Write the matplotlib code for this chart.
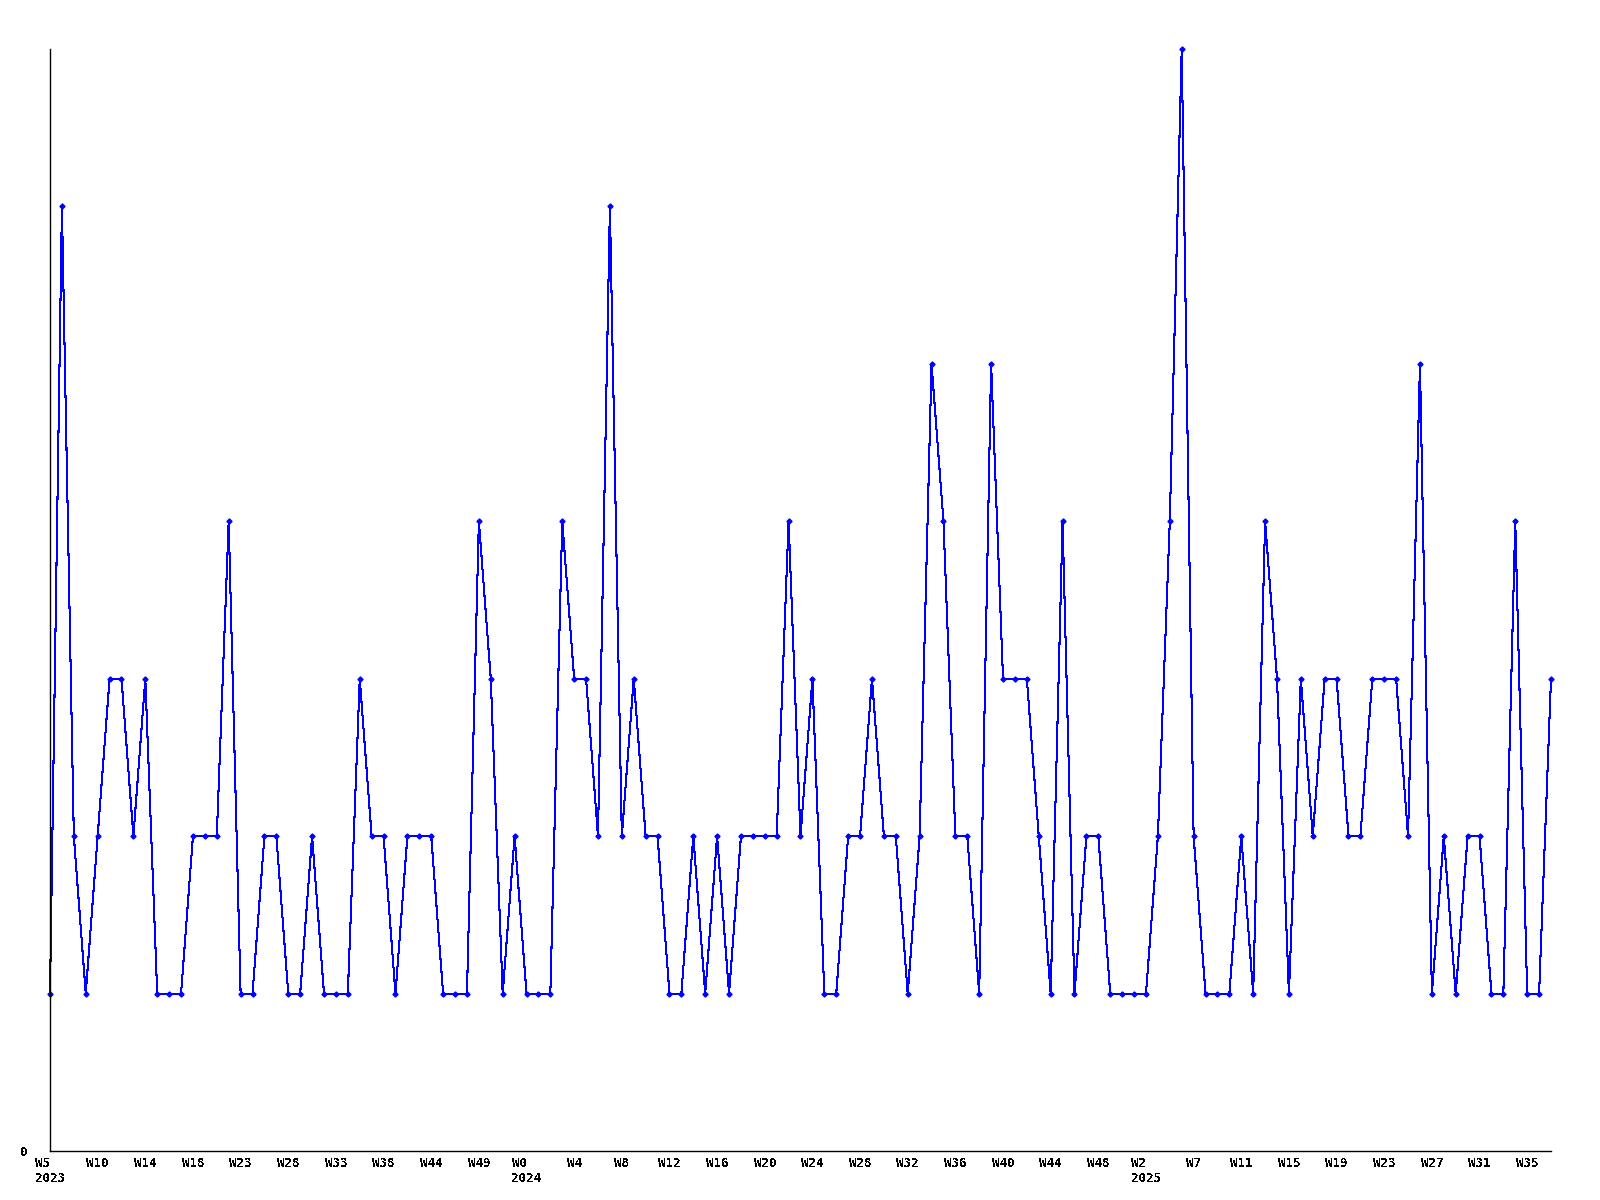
import matplotlib
matplotlib.use("Agg")
import matplotlib.pyplot as plt

# weekly counts (only weeks that had entries, so x is an index, not a date)
counts = [1, 6, 2, 1, 2, 3, 3, 2, 3, 1,
          1, 1, 2, 2, 2, 4, 1, 1, 2, 2,
          1, 1, 2, 1, 1, 1, 3, 2, 2, 1,
          2, 2, 2, 1, 1, 1, 4, 3, 1, 2,
          1, 1, 1, 4, 3, 3, 2, 6, 2, 3,
          2, 2, 1, 1, 2, 1, 2, 1, 2, 2,
          2, 2, 4, 2, 3, 1, 1, 2, 2, 3,
          2, 2, 1, 2, 5, 4, 2, 2, 1, 5,
          3, 3, 3, 2, 1, 4, 1, 2, 2, 1,
          1, 1, 1, 2, 4, 7, 2, 1, 1, 1,
          2, 1, 4, 3, 1, 3, 2, 3, 3, 2,
          2, 3, 3, 3, 2, 5, 1, 2, 1, 2,
          2, 1, 1, 4, 1, 1, 3]

# labels shown every 4th point
week_labels = ["W5", "W10", "W14", "W18", "W23", "W28", "W33", "W38",
               "W44", "W49", "W0", "W4", "W8", "W12", "W16", "W20",
               "W24", "W28", "W32", "W36", "W40", "W44", "W48", "W2",
               "W7", "W11", "W15", "W19", "W23", "W27", "W31", "W35"]
year_at = {0: "2023", 40: "2024", 92: "2025"}

plt.rcParams["text.antialiased"] = False
plt.rcParams["font.family"] = ["DejaVu Sans Mono"]

fig = plt.figure(figsize=(16, 12), dpi=100)
ax = fig.add_axes([50 / 1600, 1 - 1151 / 1200, 1501 / 1600, 1102 / 1200])

x = list(range(len(counts)))
ax.plot(x, counts, color="#0000ff", lw=0.75, marker="D", ms=2.6,
        antialiased=False, clip_on=False)

ax.set_xlim(0, len(counts) - 1)
ax.set_ylim(0, 7)

ticks = list(range(0, len(counts), 4))
labels = []
for i, t in enumerate(ticks):
    lab = week_labels[i]
    if t in year_at:
        lab = lab + "\n" + year_at[t]
    labels.append(lab)
ax.set_xticks(ticks)
ax.set_xticklabels(labels, fontsize=9, fontweight="bold",
                   multialignment="left", linespacing=1.25)
ax.set_yticks([0])
ax.set_yticklabels(["0"], fontsize=9, fontweight="bold")
ax.tick_params(axis="x", length=0, pad=4)
ax.tick_params(axis="y", length=0, pad=16)

for s in ["top", "right"]:
    ax.spines[s].set_visible(False)
for s in ["left", "bottom"]:
    ax.spines[s].set_linewidth(1.0)
    ax.spines[s].set_color("black")

fig.savefig("out.png", dpi=100)
